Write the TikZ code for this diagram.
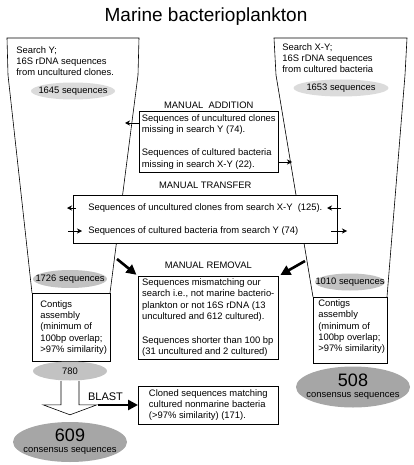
\documentclass[tikz,border=0pt]{standalone}
\usepackage{fontspec}
\setmainfont{Liberation Sans}
\usetikzlibrary{arrows.meta,positioning,shapes.geometric}

\definecolor{shadelight}{gray}{0.86}
\definecolor{shademid}{gray}{0.76}
\definecolor{shadedark}{gray}{0.65}

\newcommand{\bodyfont}{\fontsize{9.4}{11.3}\selectfont}

\begin{document}
\begin{tikzpicture}[x=1pt,y=-1pt,line width=0.6pt]
\tikzstyle{txt}=[font=\bodyfont,align=left,inner sep=0pt,anchor=north west]
\tikzstyle{infobox}=[draw,fill=white,font=\bodyfont,align=left,anchor=north west,inner xsep=2.5pt,inner ysep=3pt]
\tikzstyle{heading}=[font=\bodyfont,inner sep=0pt]
\tikzstyle{seqs}=[ellipse,fill=shadelight,font=\bodyfont,inner xsep=-12pt,inner ysep=0pt]
\tikzstyle{consensus}=[ellipse,fill=shadedark,font=\bodyfont,align=center,inner xsep=-12pt,inner ysep=-2pt,minimum width=114pt]
\tikzstyle{thinarrow}=[-{Stealth[length=5pt,width=5pt]},line width=0.5pt]
\tikzstyle{thickarrow}=[-{Triangle[length=10pt,width=10pt]},line width=2.6pt]

\useasboundingbox (0,0) rectangle (413,465);

\node[font=\fontsize{19}{22}\selectfont] (title) at (206,17) {Marine bacterioplankton};

%% Funnels (drawn first, the boxes cover them)
\coordinate (yTL) at (7,38);
\coordinate (yTR) at (139,38);
\coordinate (yBL) at (32,293);
\coordinate (yBR) at (110,293);
\draw (yBL) -- (8,75) -- (yTL) -- (yTR) -- (138,75) -- (yBR);

\coordinate (xyTL) at (274,38);
\coordinate (xyTR) at (407,38);
\coordinate (xyBL) at (313,297);
\coordinate (xyBR) at (387,297);
\draw (xyBL) -- (276,75) -- (xyTL) -- (xyTR) -- (405,75) -- (xyBR);

\node[txt] (searchY) at (16,46) {Search Y;\\16S rDNA sequences\\from uncultured clones.};
\node[txt] (searchXY) at (282,43) {Search X-Y;\\16S rDNA sequences\\from cultured bacteria};

\node[seqs,minimum width=84pt,minimum height=17pt] (s1645) at (73,91) {1645 sequences};
\node[seqs,minimum width=95pt,minimum height=17pt] (s1653) at (341,88) {1653 sequences};

%% Manual addition
\node[infobox,minimum width=139pt] (addition) at (139,111)
  {Sequences of uncultured clones\\missing in search Y (74).\\[12pt]
   Sequences of cultured bacteria\\missing in search X-Y (22).};
\node[heading,above=1.7pt of addition] (addlabel) {MANUAL\ \ ADDITION};
\coordinate (addL) at (125,123);
\coordinate (addR) at (292,162);
\draw[thinarrow] (addition.west |- addL) -- (addL);
\draw[thinarrow] (addition.east |- addR) -- (addR);

%% Manual transfer
\node[infobox,minimum width=264pt,minimum height=48pt] (transfer) at (73,195)
  {Sequences of uncultured clones from search X-Y\ \ (125).\\[11.7pt]
   Sequences of cultured bacteria from search Y (74)};
\node[heading,above=5.7pt of transfer] (translabel) {MANUAL TRANSFER};
\coordinate (trA) at (76,208);  \coordinate (trAtip) at (67,208);
\coordinate (trB) at (341,208); \coordinate (trBtip) at (327,208);
\coordinate (trC) at (68,231);  \coordinate (trCtip) at (82,231);
\coordinate (trD) at (331,231); \coordinate (trDtip) at (347,231);
\draw[thinarrow] (trA) -- (trAtip);
\draw[thinarrow] (trB) -- (trBtip);
\draw[thinarrow] (trC) -- (trCtip);
\draw[thinarrow] (trD) -- (trDtip);

%% Lower part of the funnels
\node[seqs,fill=shademid,minimum width=74pt,minimum height=18pt] (s1726) at (70,279) {1726 sequences};
\node[seqs,fill=shademid,minimum width=70pt,minimum height=17pt] (s1010) at (350,282) {1010 sequences};

\node[draw,fill=white,anchor=north west,minimum width=78pt,minimum height=68pt] (contigY) at (yBL) {};
\node[txt] (contigYtext) at (40,300) {Contigs\\assembly\\(minimum of\\100bp overlap;\\>97\% similarity)};
\node[draw,fill=white,anchor=north west,minimum width=74pt,minimum height=66pt] (contigXY) at (xyBL) {};
\node[txt] (contigXYtext) at (318,299.5) {Contigs\\assembly\\(minimum of\\100bp overlap;\\>97\% similarity)};

%% Manual removal
\node[infobox,minimum width=140pt,inner ysep=2.5pt] (removal) at (138,276)
  {Sequences mismatching our\\search i.e., not marine bacterio-\\plankton or not 16S rDNA (13\\uncultured and 612 cultured).\\[12.5pt]
   Sequences shorter than 100 bp\\(31 uncultured and 2 cultured)};
\node[heading,above=6.7pt of removal] (remlabel) {MANUAL REMOVAL};
\coordinate (remL) at (117,259);
\coordinate (remR) at (305,261);
\draw[thickarrow,shorten >=2pt] (remL) -- (removal.north west);
\draw[thickarrow,shorten >=2pt] (remR) -- (removal.north east);

%% Consensus and BLAST
\node[seqs,fill=shademid,minimum width=74pt,minimum height=19pt] (s780) at (70,371) {780};
\draw[fill=white] (s780.south) ++(-9,0) -- ++(0,24) -- ++(-18,0) -- ++(27,10) -- ++(27,-10) -- ++(-18,0) -- ++(0,-24);

\node[consensus,minimum height=40pt] (c609) at (70,442) {{\fontsize{18}{18}\selectfont 609}\\consensus sequences};
\node[consensus,minimum height=41pt] (c508) at (353,387) {{\fontsize{18}{18}\selectfont 508}\\consensus sequences};

\node[infobox,minimum width=140pt,inner ysep=3.2pt] (blastbox) at (138,386)
  {Cloned sequences matching\\cultured nonmarine bacteria\\(>97\% similarity) (171).};
\node[font=\fontsize{11}{13}\selectfont,inner sep=0pt] (blast) at (105.5,397) {BLAST};
\coordinate (blastTail) at (98,405);
\draw[thickarrow] (blastTail) -- (blastbox.west |- blastTail);

\end{tikzpicture}
\end{document}
